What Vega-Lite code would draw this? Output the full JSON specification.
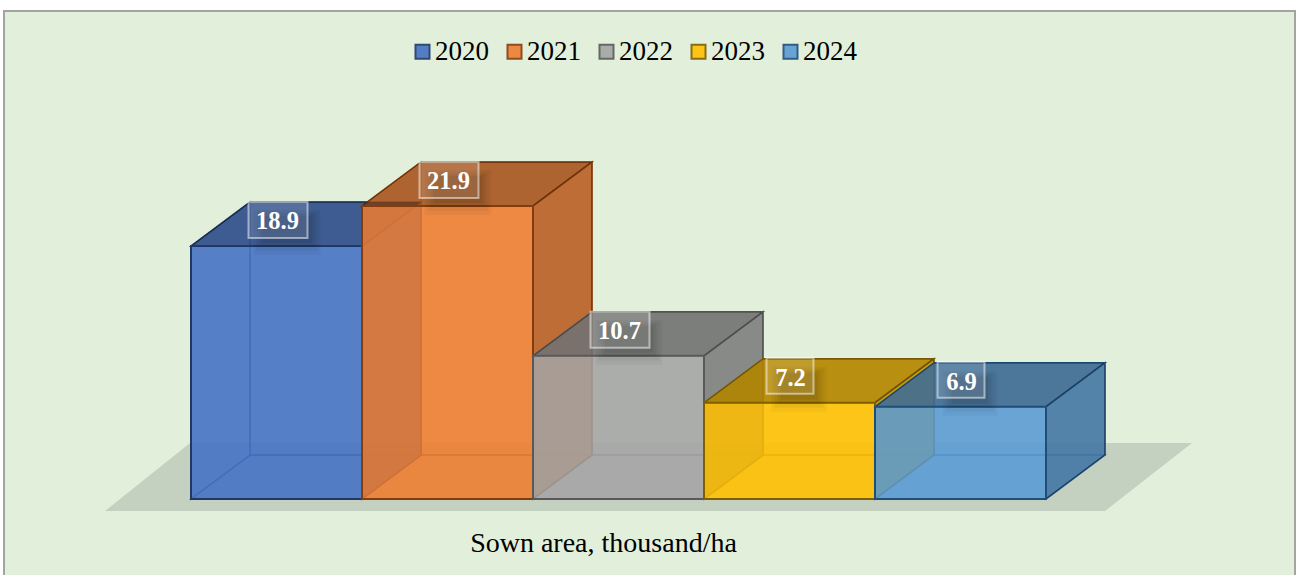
{
"$schema":"https://vega.github.io/schema/vega-lite/v6.json",
"width":1291,"height":566,
"autosize":{"type":"none"},
"padding":{"left":4,"top":11,"right":3,"bottom":0},
"background":"#ffffff",
"view":{"fill":"#E2EFDA","stroke":"#A3A3A3","strokeWidth":2},
"config":{"font":"Liberation Serif"},
"data":{"values":[
{"year":"2020","value":18.9},
{"year":"2021","value":21.9},
{"year":"2022","value":10.7},
{"year":"2023","value":7.2},
{"year":"2024","value":6.9}]},
"encoding":{
"x":{"field":"year","type":"nominal","scale":{"type":"band","range":[187,1042],"paddingInner":0,"paddingOuter":0,"domain":["2020","2021","2022","2023","2024"]},
 "axis":{"orient":"bottom","domain":false,"ticks":false,"labels":false,"grid":false,"title":"Sown area, thousand/ha","titleFont":"Liberation Serif","titleFontSize":28,"titleFontWeight":"normal","titleColor":"#000000","titleX":599,"titleY":-26,"titleAlign":"center","titleBaseline":"alphabetic","titleAnchor":null}},
"y":{"field":"value","type":"quantitative","scale":{"domain":[0,36.47],"range":[488,0],"nice":false,"zero":false},"axis":null},
"fill":{"field":"year","type":"nominal","scale":{"range":["#4472C4","#ED7D31","#A5A5A5","#FFC000","#5B9BD5"]},
 "legend":{"orient":"none","legendX":405,"legendY":27,"direction":"horizontal","columns":5,"title":null,"symbolType":"square","symbolSize":196,"symbolStrokeWidth":2,"symbolOpacity":0.9,"labelFont":"Liberation Serif","labelFontSize":27,"labelColor":"#000000","labelOffset":-1,"columnPadding":12}},
"stroke":{"field":"year","type":"nominal","scale":{"range":["#1F3864","#843C0C","#595959","#7F6000","#1F4E79"]},
 "legend":{"orient":"none","legendX":405,"legendY":27,"direction":"horizontal","columns":5,"title":null,"symbolType":"square","symbolSize":196,"symbolStrokeWidth":2,"symbolOpacity":0.9,"labelFont":"Liberation Serif","labelFontSize":27,"labelColor":"#000000","labelOffset":-1,"columnPadding":12}}
},
"layer":[
{"transform":[{"filter":"datum.year==='2022'"}],
 "mark":{"type":"point","filled":true,"size":4,"opacity":1,"shape":"M-513.5 12L486.5 12L573.5 -56L-428.5 -56Z"},
 "encoding":{"y":{"datum":0},"fill":{"value":"#C5D1C0"},"stroke":{"value":null}}},
{"mark":{"type":"bar","xOffset":59,"x2Offset":59,"yOffset":-44,"y2Offset":-44,"fillOpacity":0.3,"strokeOpacity":0.6,"strokeWidth":1.5}},
{"mark":{"type":"point","filled":true,"size":4,"opacity":1,"fillOpacity":0.3,"strokeOpacity":0.6,"strokeWidth":1.5,"shape":"M-85.5 0L85.5 0L144.5 -44L-26.5 -44Z"},
 "encoding":{"y":{"datum":0}}},
{"mark":{"type":"point","filled":true,"size":4,"opacity":1,"xOffset":-171,"fillOpacity":0.3,"strokeOpacity":0.5,"strokeWidth":1.5},
 "encoding":{"shape":{"field":"year","type":"nominal","legend":null,"scale":{"range":[
 "M85.5 0L144.5 -44L144.5 208.9L85.5 252.9Z",
 "M85.5 0L144.5 -44L144.5 249L85.5 293Z",
 "M85.5 0L144.5 -44L144.5 99.2L85.5 143.2Z",
 "M85.5 0L144.5 -44L144.5 52.3L85.5 96.3Z",
 "M85.5 0L144.5 -44L144.5 48.3L85.5 92.3Z"]}}}},
{"mark":{"type":"point","filled":true,"size":4,"opacity":1,"fillOpacity":0.85,"strokeOpacity":1,"strokeWidth":1.5},
 "encoding":{"shape":{"field":"year","type":"nominal","legend":null}}},
{"mark":{"type":"point","filled":true,"size":4,"opacity":1,"fillOpacity":0.2,"strokeOpacity":0},
 "encoding":{"fill":{"value":"#000000"},"stroke":{"value":null},"shape":{"field":"year","type":"nominal","legend":null}}},
{"mark":{"type":"point","filled":true,"size":4,"opacity":1,"fillOpacity":0.85,"strokeOpacity":1,"strokeWidth":1.5,"shape":"M-85.5 0L85.5 0L144.5 -44L-26.5 -44Z"}},
{"mark":{"type":"point","filled":true,"size":4,"opacity":1,"fillOpacity":0.27,"shape":"M-85.5 0L85.5 0L144.5 -44L-26.5 -44Z"},
 "encoding":{"fill":{"value":"#000000"},"stroke":{"value":null}}},
{"mark":{"type":"bar","fillOpacity":0.85,"strokeWidth":2}},

{"transform":[{"filter":"datum.value>=10"}],"mark":{"type":"point","filled":true,"size":4,"opacity":1,"fillOpacity":0.035,"shape":"M-23 -36L44 -36L44 9L-23 9Z"},"encoding":{"fill":{"value":"#000000"},"stroke":{"value":null}}},
{"transform":[{"filter":"datum.value>=10"}],"mark":{"type":"point","filled":true,"size":4,"opacity":1,"fillOpacity":0.04,"shape":"M-20 -34L41 -34L41 5L-20 5Z"},"encoding":{"fill":{"value":"#000000"},"stroke":{"value":null}}},
{"transform":[{"filter":"datum.value>=10"}],"mark":{"type":"point","filled":true,"size":4,"opacity":1,"fillOpacity":0.05,"shape":"M-17 -32L38 -32L38 1L-17 1Z"},"encoding":{"fill":{"value":"#000000"},"stroke":{"value":null}}},
{"transform":[{"filter":"datum.value>=10"}],"mark":{"type":"point","filled":true,"size":4,"opacity":1,"fillOpacity":0.06,"shape":"M-14 -30L35 -30L35 -3L-14 -3Z"},"encoding":{"fill":{"value":"#000000"},"stroke":{"value":null}}},
{"transform":[{"filter":"datum.value<10"}],"mark":{"type":"point","filled":true,"size":4,"opacity":1,"fillOpacity":0.035,"shape":"M-18 -36L37 -36L37 9L-18 9Z"},"encoding":{"fill":{"value":"#000000"},"stroke":{"value":null}}},
{"transform":[{"filter":"datum.value<10"}],"mark":{"type":"point","filled":true,"size":4,"opacity":1,"fillOpacity":0.04,"shape":"M-15 -34L34 -34L34 5L-15 5Z"},"encoding":{"fill":{"value":"#000000"},"stroke":{"value":null}}},
{"transform":[{"filter":"datum.value<10"}],"mark":{"type":"point","filled":true,"size":4,"opacity":1,"fillOpacity":0.05,"shape":"M-12 -32L31 -32L31 1L-12 1Z"},"encoding":{"fill":{"value":"#000000"},"stroke":{"value":null}}},
{"transform":[{"filter":"datum.value<10"}],"mark":{"type":"point","filled":true,"size":4,"opacity":1,"fillOpacity":0.06,"shape":"M-9 -30L28 -30L28 -3L-9 -3Z"},"encoding":{"fill":{"value":"#000000"},"stroke":{"value":null}}},

{"transform":[{"filter":"datum.value>=10"}],"mark":{"type":"point","filled":true,"size":4,"opacity":1,"fillOpacity":0.12,"strokeOpacity":0.5,"strokeWidth":2,"shape":"M-28 -44L31 -44L31 -8L-28 -8Z"},"encoding":{"fill":{"value":"#ffffff"},"stroke":{"value":"#ffffff"}}},
{"transform":[{"filter":"datum.value<10"}],"mark":{"type":"point","filled":true,"size":4,"opacity":1,"fillOpacity":0.12,"strokeOpacity":0.5,"strokeWidth":2,"shape":"M-23 -45L24 -45L24 -9L-23 -9Z"},"encoding":{"fill":{"value":"#ffffff"},"stroke":{"value":"#ffffff"}}},
{"mark":{"type":"text","font":"Liberation Serif","fontWeight":"bold","fontSize":24.5,"baseline":"alphabetic","align":"center","dx":1,"dy":-17},
 "encoding":{"text":{"field":"value","type":"quantitative","format":".1f"},"fill":{"value":"#ffffff"},"stroke":{"value":null}}}
]
}
